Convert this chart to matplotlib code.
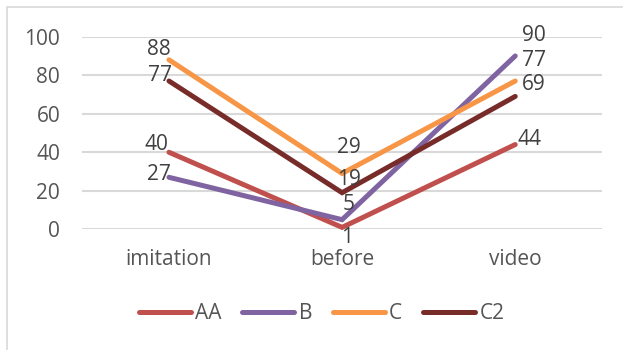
import matplotlib.pyplot as plt
from matplotlib.patches import Rectangle

categories = ["imitation", "before", "video"]
series_names = ["AA", "B", "C", "C2"]
aa = [40, 1, 44]
b = [27, 5, 90]
c = [88, 29, 77]
c2 = [77, 19, 69]
yticks = [0, 20, 40, 60, 80, 100]

colors = ["#C0504D", "#8064A2", "#F79646", "#772C2A"]
# label offsets in pixels (dx, dy) per series, per category
label_offsets = [
    [(-13, 8), (5, -10), (14, 5)],
    [(-10, 3), (7, 15), (19, 20)],
    [(-10, 10), (7, 26), (19, 20)],
    [(-9, 5), (7, 13), (19, 12)],
]

plt.rcParams["font.family"] = ["Open Sans", "DejaVu Sans"]
fs = 15

fig = plt.figure(figsize=(6.23, 3.5), dpi=100)
fig.patches.append(Rectangle((7 / 623, -0.1), 1.2, 1.1 - 7 / 350, transform=fig.transFigure,
                             fill=False, edgecolor="#D9D9D9", linewidth=1.2, zorder=0))

ax = fig.add_axes([82.4 / 623, 1 - 229.3 / 350, 519.4 / 623, 192.6 / 350])
x = list(range(len(categories)))

for name, vals, col, offs in zip(series_names, [aa, b, c, c2], colors, label_offsets):
    ax.plot(x, vals, color=col, linewidth=3.6, solid_capstyle="round",
            solid_joinstyle="miter", label=name, clip_on=False, zorder=3)
    for xi, v, (dx, dy) in zip(x, vals, offs):
        ax.annotate(str(v), (xi, v), xytext=(dx, dy), textcoords="offset pixels",
                    ha="center", va="center", fontsize=fs, color="#404040", zorder=4)

ax.set_xlim(-0.5, 2.5)
ax.set_ylim(0, 100)
ax.set_yticks(yticks)
ax.set_xticks(x)
ax.set_xticklabels(categories)
ax.grid(axis="y", color="#D9D9D9", linewidth=1.5)
ax.set_axisbelow(True)
for s in ax.spines.values():
    s.set_visible(False)
ax.tick_params(length=0, labelsize=fs, labelcolor="#555555")
ax.tick_params(axis="y", pad=16)
ax.tick_params(axis="x", pad=14)

fig.legend(loc="center", bbox_to_anchor=(321.5 / 623, 1 - 313.3 / 350), ncol=4,
           frameon=False, fontsize=fs, handlelength=2.5, handletextpad=0.2,
           columnspacing=1.0, labelcolor="#555555", borderpad=0)

fig.savefig("out.png", dpi=100)
